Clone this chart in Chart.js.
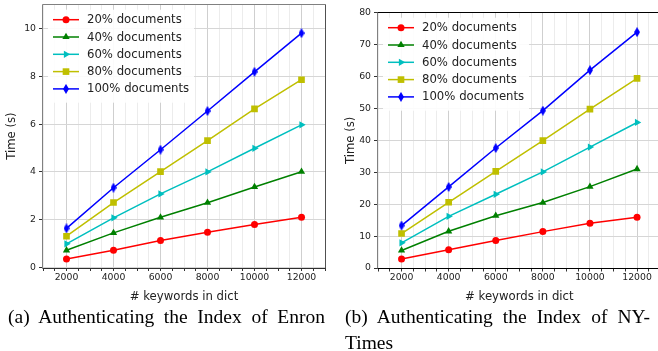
<!DOCTYPE html>
<html>
<head>
<meta charset="utf-8">
<script src="https://cdn.jsdelivr.net/npm/chart.js@4.4.1/dist/chart.umd.min.js"></script>
<style>
  html, body { margin: 0; padding: 0; background: #fff; }
  body { width: 658px; height: 351px; overflow: hidden; position: relative; }
  canvas { position: absolute; top: 0; }
  #chartA { left: 0; }
  #chartB { left: 330px; }
  .cap {
    position: absolute; font-family: "Liberation Serif", "Times New Roman", serif;
    font-size: 19.5px; line-height: 26px; color: #000; text-align: justify;
  }
  #capA { left: 8px; top: 304px; width: 317px; text-align-last: justify; }
  #capB { left: 345px; top: 304px; width: 305px; }
</style>
</head>
<body>
<canvas id="chartA" width="330" height="305"></canvas>
<canvas id="chartB" width="340" height="305"></canvas>
<div class="cap" id="capA">(a) Authenticating the Index of Enron</div>
<div class="cap" id="capB">(b) Authenticating the Index of NY-Times</div>
<script>
const keywords = [2000, 4000, 6000, 8000, 10000, 12000];
const seriesNames = ['20% documents', '40% documents', '60% documents', '80% documents', '100% documents'];

// Enron (s)
const enron20 = [0.36, 0.72, 1.13, 1.48, 1.80, 2.10];
const enron40 = [0.72, 1.45, 2.10, 2.71, 3.37, 4.01];
const enron60 = [0.99, 2.08, 3.08, 4.00, 4.99, 5.97];
const enron80 = [1.31, 2.72, 4.01, 5.31, 6.64, 7.86];
const enron100 = [1.64, 3.34, 4.93, 6.55, 8.19, 9.81];

// NYTimes (s)
const nyt20 = [2.8, 5.7, 8.6, 11.4, 14.0, 15.9];
const nyt40 = [5.5, 11.5, 16.4, 20.5, 25.5, 31.0];
const nyt60 = [7.9, 16.2, 23.1, 30.1, 37.9, 45.6];
const nyt80 = [10.8, 20.6, 30.3, 39.9, 49.8, 59.4];
const nyt100 = [13.3, 25.4, 37.6, 49.3, 62.0, 73.9];

const xTickLabels = ['2000', '4000', '6000', '8000', '10000', '12000'];

const colors = ['#ff0000', '#008000', '#00bfbf', '#bfbf00', '#0000ff'];
const font = '"DejaVu Sans", sans-serif';

// thin diamond marker
const thinDiamond = document.createElement('canvas');
thinDiamond.width = 6; thinDiamond.height = 10;
(function () {
    const c = thinDiamond.getContext('2d');
    c.fillStyle = '#0000ff';
    c.beginPath();
    c.moveTo(3, 0); c.lineTo(6, 5); c.lineTo(3, 10); c.lineTo(0, 5);
    c.closePath(); c.fill();
})();

const markers = [
    { pointStyle: 'circle', radius: 3.5, rotation: 0 },
    { pointStyle: 'triangle', radius: 4.2, rotation: 0 },
    { pointStyle: 'triangle', radius: 4.2, rotation: 90 },
    { pointStyle: 'rect', radius: 4.7, rotation: 0 },
    { pointStyle: thinDiamond, radius: 4, rotation: 0 }
];

// legend drawn inside the plot, matplotlib-like
const innerLegend = {
    id: 'innerLegend',
    afterDatasetsDraw(chart) {
        const { ctx, chartArea } = chart;
        const x0 = chartArea.left, y0 = chartArea.top;
        ctx.save();
        ctx.fillStyle = 'rgba(255,255,255,0.9)';
        ctx.fillRect(x0 + 5, y0 + 5, 146, 93);
        chart.data.datasets.forEach((ds, i) => {
            const y = y0 + 15 + i * 17.3;
            ctx.strokeStyle = colors[i];
            ctx.lineWidth = 1.5;
            ctx.beginPath();
            ctx.moveTo(x0 + 10, y); ctx.lineTo(x0 + 36, y);
            ctx.stroke();
            ctx.fillStyle = colors[i];
            Chart.helpers.drawPoint(ctx, markers[i], x0 + 23, y);
            ctx.fillStyle = '#222';
            ctx.font = '11.7px ' + font;
            ctx.textBaseline = 'middle';
            ctx.textAlign = 'left';
            ctx.fillText(ds.label, x0 + 44, y + 0.5);
        });
        ctx.restore();
    }
};

// frame around the axes
const frame = {
    id: 'frame',
    afterDraw(chart, args, opts) {
        const { ctx, chartArea: a } = chart;
        ctx.save();
        ctx.lineWidth = 1;
        const side = (c, x1, y1, x2, y2) => {
            ctx.strokeStyle = c;
            ctx.beginPath(); ctx.moveTo(x1, y1); ctx.lineTo(x2, y2); ctx.stroke();
        };
        const l = Math.round(a.left) - 0.5, r = Math.round(a.right) + 0.5;
        const t = Math.round(a.top) - 0.5, b = Math.round(a.bottom) + 0.5;
        side(opts.top, l, t, r, t);
        side(opts.right, r, t, r, b);
        side(opts.bottom, l, b, r, b);
        side(opts.left, l, t, l, b);
        ctx.restore();
    }
};

function makeChart(id, series, yMax, yStep, dims, frameColors) {
    const datasets = series.map((vals, i) => ({
        label: seriesNames[i],
        data: keywords.map((k, j) => ({ x: k, y: vals[j] })),
        borderColor: colors[i],
        backgroundColor: colors[i],
        borderWidth: 1.5,
        pointStyle: markers[i].pointStyle,
        pointRadius: markers[i].radius,
        pointRotation: markers[i].rotation,
        pointBorderWidth: 0,
        pointHoverRadius: markers[i].radius,
        tension: 0
    }));

    return new Chart(document.getElementById(id), {
        type: 'line',
        data: { datasets },
        options: {
            responsive: false,
            animation: false,
            events: [],
            layout: { padding: { top: dims.top, right: dims.right, left: 0, bottom: 0 } },
            plugins: { legend: { display: false }, tooltip: { enabled: false }, frame: frameColors },
            scales: {
                x: {
                    type: 'linear', min: 1000, max: 13000,
                    afterFit(s) { s.height = dims.xH; s.paddingLeft = 0; s.paddingRight = 0; },
                    ticks: {
                        stepSize: 500, autoSkip: false, maxRotation: 0, maxTicksLimit: 100,
                        color: '#222', font: { family: font, size: 9.3 }, padding: 1,
                        callback: v => (v % 2000 === 0 && v >= 2000 && v <= 12000) ? xTickLabels[(v - 2000) / 2000] : ''
                    },
                    grid: {
                        color: c => (c.tick && c.tick.value % 2000 === 0) ? '#cfcfcf' : '#ececec',
                        tickColor: '#333', tickLength: 3.5
                    },
                    border: { display: false },
                    title: {
                        display: true, text: '# keywords in dict', color: '#222',
                        font: { family: font, size: 11.7 }, padding: { top: 0, bottom: 1.5 }
                    }
                },
                y: {
                    type: 'linear', min: 0, max: yMax,
                    afterFit(s) { s.width = dims.yW; s.paddingTop = 0; s.paddingBottom = 0; },
                    ticks: {
                        stepSize: yStep, includeBounds: false,
                        color: '#222', font: { family: font, size: 9.3 }, padding: 3
                    },
                    grid: { color: '#d6d6d6', tickColor: '#333', tickLength: 4 },
                    border: { display: false },
                    title: {
                        display: true, text: 'Time (s)', color: '#222',
                        font: { family: font, size: 11.7 }, padding: { top: dims.titlePad, bottom: 0 }
                    }
                }
            }
        },
        plugins: [innerLegend, frame]
    });
}

makeChart('chartA', [enron20, enron40, enron60, enron80, enron100], 11, 2,
    { top: 4, right: 5, xH: 37.5, yW: 43, titlePad: 5.3 },
    { top: '#808080', right: '#505050', bottom: '#303030', left: '#808080' });

makeChart('chartB', [nyt20, nyt40, nyt60, nyt80, nyt100], 80, 10,
    { top: 12.7, right: 9.4, xH: 37, yW: 48, titlePad: 14 },
    { top: '#000000', right: '#000000', bottom: '#000000', left: '#808080' });
</script>
</body>
</html>
